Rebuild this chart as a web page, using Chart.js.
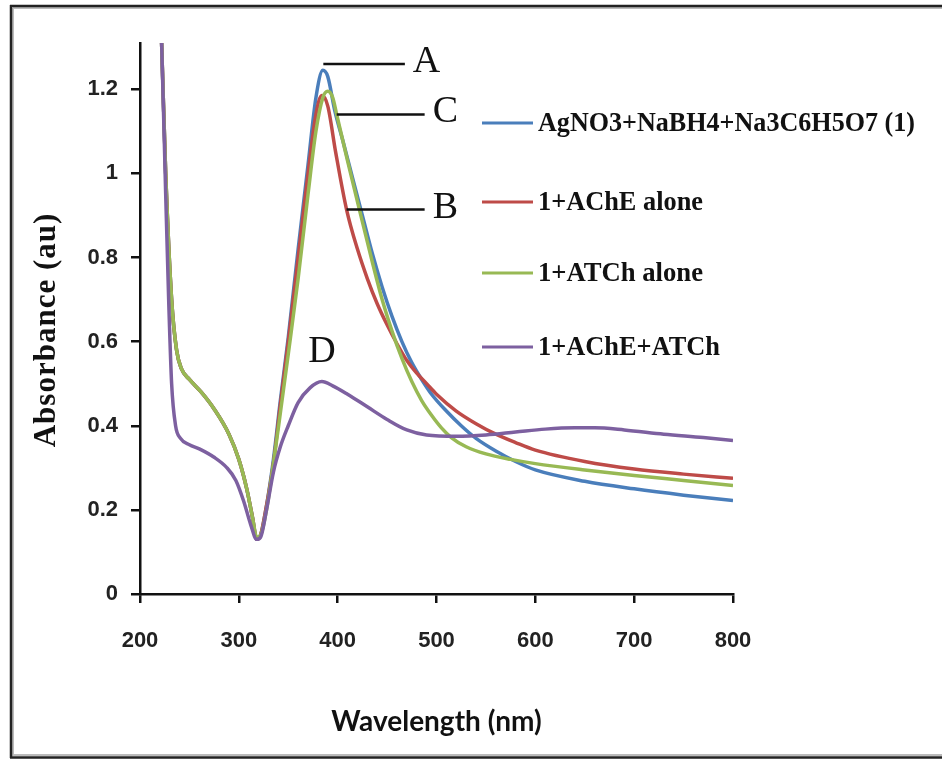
<!DOCTYPE html>
<html>
<head>
<meta charset="utf-8">
<script src="https://cdn.jsdelivr.net/npm/chart.js@4/dist/chart.umd.min.js"></script>
<style>
body{margin:0;background:#fff}
</style>
</head>
<body>
<canvas id="chart" width="942" height="759"></canvas>
<script>

// readings, [wavelength nm, absorbance]
let seriesNames=["AgNO3+NaBH4+Na3C6H5O7 (1)","1+AChE alone","1+ATCh alone","1+AChE+ATCh"]

let blueA=[[218,1.6],[222,1.3],[226,1.0],[232,0.70],[237,0.58],[242,0.535],[250,0.51],[262,0.48],[275,0.44],[290,0.38],[300,0.32],[308,0.25],[314,0.18],[318,0.13],[322,0.14],[328,0.21],[335,0.32],[342,0.46],[350,0.61],[360,0.82],[370,1.02],[378,1.18],[385,1.245],[390,1.23],[397,1.15],[405,1.08],[415,0.99],[425,0.90],[435,0.81],[445,0.73],[455,0.66],[465,0.60],[475,0.55],[485,0.51],[495,0.475],[510,0.435],[525,0.40],[540,0.37],[560,0.34],[580,0.315],[600,0.295],[650,0.268],[700,0.25],[750,0.235],[800,0.222]]

let redB=[[218,1.6],[222,1.3],[226,1.0],[232,0.70],[237,0.58],[242,0.535],[250,0.51],[262,0.48],[275,0.44],[290,0.38],[300,0.32],[308,0.25],[314,0.18],[318,0.13],[322,0.14],[328,0.21],[335,0.31],[342,0.45],[350,0.60],[360,0.80],[370,1.0],[378,1.14],[384,1.185],[390,1.16],[398,1.05],[409,0.914],[420,0.82],[430,0.75],[440,0.69],[450,0.64],[460,0.595],[470,0.555],[480,0.525],[490,0.50],[500,0.475],[520,0.435],[540,0.405],[560,0.38],[580,0.36],[600,0.342],[650,0.315],[700,0.297],[750,0.285],[800,0.275]]

let greenC=[[218,1.6],[222,1.3],[226,1.0],[232,0.70],[237,0.58],[242,0.535],[250,0.51],[262,0.48],[275,0.44],[290,0.38],[300,0.32],[308,0.25],[314,0.18],[318,0.135],[322,0.14],[328,0.2],[335,0.31],[342,0.43],[350,0.57],[360,0.75],[370,0.95],[378,1.1],[385,1.18],[390,1.195],[395,1.18],[399,1.14],[410,1.03],[422,0.914],[435,0.79],[445,0.70],[455,0.625],[465,0.56],[475,0.505],[485,0.46],[495,0.425],[505,0.395],[515,0.372],[530,0.35],[550,0.333],[575,0.32],[600,0.31],[650,0.295],[700,0.282],[750,0.27],[800,0.258]]

let purpleD=[[217,1.6],[222,1.3],[226,0.95],[229,0.70],[232,0.50],[236,0.40],[241,0.37],[250,0.355],[260,0.345],[275,0.325],[288,0.30],[297,0.27],[305,0.22],[312,0.165],[318,0.13],[322,0.135],[328,0.2],[335,0.29],[342,0.35],[350,0.40],[360,0.455],[372,0.49],[384,0.505],[395,0.495],[410,0.475],[430,0.445],[450,0.415],[470,0.39],[490,0.378],[520,0.375],[550,0.378],[580,0.385],[610,0.392],[640,0.395],[660,0.395],[690,0.39],[730,0.38],[770,0.372],[800,0.365]]

let yTicks=[0,0.2,0.4,0.6,0.8,1,1.2]

// letter labels: text, leader line start/end wavelength, absorbance
let marks=[
{text:"A",x1:385.5,x2:468,y:1.26},
{text:"C",x1:399,x2:488,y:1.14},
{text:"B",x1:409,x2:488,y:0.914},
{text:"D",x1:null,x2:384,y:0.575}
]

let colors=["#4a7ebb","#be4b48","#98b954","#7d60a0"]

function pts(arr){
return arr.map(p=>({x:p[0],y:p[1]}))
}

let frame={
id:"frame",
beforeDraw(chart){
let c=chart.ctx
c.save()
c.fillStyle="#fff"
c.fillRect(0,0,chart.width,chart.height)
c.strokeStyle="#bbb"
c.lineWidth=2
c.beginPath()
c.moveTo(13,8);c.lineTo(942,8)
c.moveTo(13,8);c.lineTo(13,755)
c.lineTo(942,755)
c.stroke()
c.strokeStyle="#222"
c.lineWidth=2.5
c.beginPath()
c.moveTo(10,6);c.lineTo(942,6)
c.moveTo(11,5);c.lineTo(11,758)
c.moveTo(10,757.5);c.lineTo(942,757.5)
c.stroke()
c.restore()
}
}

let extras={
id:"extras",
afterDraw(chart){
let c=chart.ctx
let xs=chart.scales.x
let ys=chart.scales.y
c.save()

// y title, drawn here to put it where the original sits
c.translate(47,330)
c.rotate(-Math.PI/2)
c.textAlign="center"
c.textBaseline="middle"
c.fillStyle="#111"
c.font="bold 31px 'Liberation Serif'"
c.letterSpacing="1px"
c.fillText("Absorbance (au)",0,0)
c.restore()
c.save()

// legend
c.textBaseline="middle"
let rowsY=[123,202,273,347]
let widths=[377,165,165,182]
chart.data.datasets.forEach((ds,i)=>{
c.strokeStyle=ds.borderColor
c.lineWidth=3
c.beginPath()
c.moveTo(482,rowsY[i])
c.lineTo(533,rowsY[i])
c.stroke()
c.fillStyle="#111"
c.font="bold 27px 'Liberation Serif'"
c.fillText(ds.label,538,rowsY[i]+1,widths[i])
})

// letters with leader lines
c.font="38px 'Liberation Serif'"
c.fillStyle="#111"
c.strokeStyle="#111"
c.lineWidth=2.5
marks.forEach(m=>{
let py=ys.getPixelForValue(m.y)
let x2=xs.getPixelForValue(m.x2)
if(m.x1!==null){
c.beginPath()
c.moveTo(xs.getPixelForValue(m.x1),py)
c.lineTo(x2,py)
c.stroke()
c.textAlign="left"
c.fillText(m.text,x2+8,py-2)
}else{
c.textAlign="center"
c.fillText(m.text,x2,py)
}
})
c.restore()
}
}

let datasets=[blueA,redB,greenC,purpleD].map((arr,i)=>({
label:seriesNames[i],
data:pts(arr),
borderColor:colors[i],
borderWidth:3.5,
pointRadius:0,
fill:false,
cubicInterpolationMode:"monotone"
}))

// later series sit on top, like the original
let drawOrder=[4,3,2,1]
datasets.forEach((d,i)=>d.order=drawOrder[i])

new Chart(document.getElementById("chart"),{
type:"line",
data:{datasets:datasets},
options:{
responsive:false,
animation:false,
layout:{padding:{left:0,right:209,top:43,bottom:0}},
plugins:{legend:{display:false},tooltip:{enabled:false}},
scales:{
x:{
type:"linear",
min:200,
max:800,
ticks:{stepSize:100,color:"#222",font:{family:"'Liberation Sans'",size:22,weight:"bold"},padding:25,maxRotation:0},
grid:{drawOnChartArea:false,color:"#111",lineWidth:2.5,tickLength:9},
border:{color:"#111",width:2.5},
title:{display:true,text:"Wavelength (nm)",color:"#111",font:{family:"Lato",size:28,weight:"bold"},padding:{bottom:20}},
afterFit(s){s.height=165}
},
y:{
min:0,
max:1.31,
afterBuildTicks(s){s.ticks=yTicks.map(v=>({value:v}))},
ticks:{color:"#222",font:{family:"'Liberation Sans'",size:22,weight:"bold"},padding:13,
callback:v=>String(v)},
grid:{drawOnChartArea:false,color:"#111",lineWidth:2.5,tickLength:9},
border:{color:"#111",width:2.5},
title:{display:false},
afterFit(s){s.width=140}
}
}
},
plugins:[frame,extras]
})

</script>
</body>
</html>
